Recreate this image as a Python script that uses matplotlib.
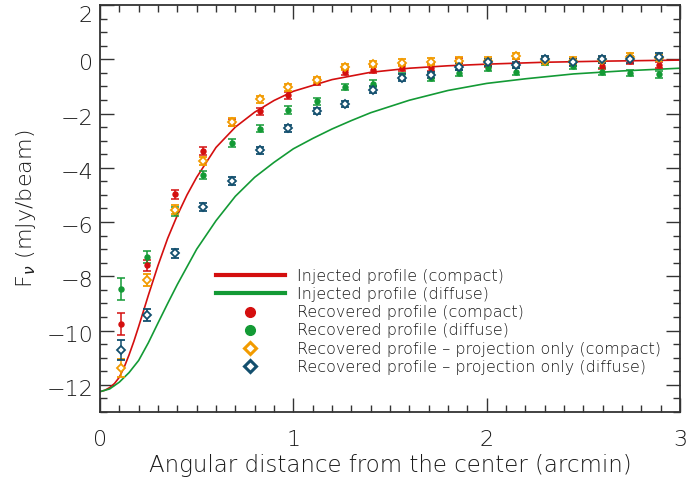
import matplotlib
matplotlib.use("Agg")
import matplotlib.pyplot as plt
from matplotlib.lines import Line2D
from matplotlib.ticker import MultipleLocator
from matplotlib.transforms import ScaledTranslation

# radial bins (arcmin)
r_bins = [0.109, 0.241, 0.388, 0.535, 0.681, 0.828, 0.974, 1.121, 1.268, 1.414,
          1.561, 1.711, 1.859, 2.006, 2.154, 2.303, 2.449, 2.596, 2.743, 2.889]

# recovered profiles (mJy/beam)
rec_compact = [-9.75, -7.6, -4.97, -3.37, -2.33, -1.91, -1.33, -0.83, -0.47, -0.38,
               -0.33, -0.31, -0.09, -0.15, -0.12, -0.05, -0.10, -0.25, -0.05, -0.21]
rec_diffuse = [-8.47, -7.3, -5.6, -4.25, -3.09, -2.56, -1.87, -1.55, -1.03, -0.90,
               -0.62, -0.68, -0.51, -0.33, -0.46, -0.10, -0.25, -0.46, -0.50, -0.56]
proj_compact = [-11.37, -8.13, -5.55, -3.74, -2.31, -1.48, -1.04, -0.77, -0.28, -0.18,
                -0.12, -0.09, -0.05, -0.05, 0.12, -0.05, -0.05, -0.03, 0.10, 0.05]
proj_diffuse = [-10.7, -9.42, -7.15, -5.44, -4.48, -3.35, -2.55, -1.91, -1.64, -1.12,
                -0.68, -0.58, -0.27, -0.11, -0.21, 0.0, -0.11, 0.0, 0.0, 0.10]

err_rec_compact = [0.40, 0.22, 0.17, 0.15, 0.14, 0.13, 0.13, 0.12, 0.12, 0.12,
                   0.12, 0.12, 0.12, 0.12, 0.12, 0.12, 0.12, 0.12, 0.12, 0.12]
err_rec_diffuse = [0.41, 0.22, 0.17, 0.15, 0.14, 0.13, 0.13, 0.12, 0.12, 0.12,
                   0.12, 0.12, 0.12, 0.12, 0.12, 0.12, 0.12, 0.12, 0.12, 0.12]
err_proj_compact = [0.34, 0.22, 0.17, 0.15, 0.14, 0.13, 0.13, 0.12, 0.12, 0.12,
                    0.12, 0.12, 0.12, 0.12, 0.12, 0.12, 0.12, 0.12, 0.12, 0.12]
err_proj_diffuse = [0.37, 0.22, 0.17, 0.15, 0.14, 0.13, 0.13, 0.12, 0.12, 0.12,
                    0.12, 0.12, 0.12, 0.12, 0.12, 0.12, 0.12, 0.12, 0.12, 0.12]

# injected profiles
inj_r_compact = [0.0, 0.025, 0.05, 0.075, 0.1, 0.125, 0.15, 0.175, 0.2, 0.25, 0.3, 0.35,
                 0.4, 0.45, 0.5, 0.6, 0.7, 0.8, 0.9, 1.0, 1.2, 1.4, 1.6, 1.8, 2.0, 2.3,
                 2.6, 3.0]
inj_compact = [-12.25, -12.2, -12.1, -11.95, -11.72, -11.35, -10.9, -10.4, -9.85, -8.7,
               -7.6, -6.6, -5.75, -5.0, -4.35, -3.25, -2.5, -1.95, -1.52, -1.18, -0.75,
               -0.48, -0.33, -0.24, -0.18, -0.11, -0.07, -0.03]
inj_r_diffuse = [0.0, 0.05, 0.1, 0.15, 0.2, 0.25, 0.3, 0.35, 0.4, 0.45, 0.5, 0.6, 0.7,
                 0.8, 0.9, 1.0, 1.1, 1.2, 1.3, 1.4, 1.6, 1.8, 2.0, 2.2, 2.45, 2.7, 3.0]
inj_diffuse = [-12.25, -12.15, -11.9, -11.55, -11.1, -10.45, -9.72, -9.0, -8.3, -7.65,
               -7.0, -5.95, -5.05, -4.35, -3.8, -3.3, -2.92, -2.57, -2.26, -1.97,
               -1.51, -1.15, -0.89, -0.72, -0.54, -0.43, -0.33]

RED = "#d40f0f"
GREEN = "#139a35"
ORANGE = "#f29b00"
BLUE = "#134f6e"
INK = "#1a1a1a"

plt.rcParams["font.family"] = ["DejaVu Sans"]
plt.rcParams["font.weight"] = "light"

fig = plt.figure(figsize=(6.87, 4.87), dpi=100)
ax = fig.add_axes([100 / 687, 1 - 412 / 487, 580 / 687, 407 / 487])

ax.plot(inj_r_compact, inj_compact, color=RED, lw=1.2, zorder=2)
ax.plot(inj_r_diffuse, inj_diffuse, color=GREEN, lw=1.2, zorder=2)

eb = dict(ls="none", capsize=3, elinewidth=1.1, capthick=1.1, zorder=3)
ax.errorbar(r_bins, rec_compact, yerr=err_rec_compact, color=RED, marker="o", ms=3.6, **eb)
ax.errorbar(r_bins, rec_diffuse, yerr=err_rec_diffuse, color=GREEN, marker="o", ms=3.6, **eb)
ax.errorbar(r_bins, proj_compact, yerr=err_proj_compact, color=ORANGE, marker="D", ms=3.6,
            mfc="white", mec=ORANGE, mew=1.3, **eb)
ax.errorbar(r_bins, proj_diffuse, yerr=err_proj_diffuse, color=BLUE, marker="D", ms=3.6,
            mfc="white", mec=BLUE, mew=1.3, **eb)

ax.set_xlim(0, 3)
ax.set_ylim(-13, 2)
ax.xaxis.set_major_locator(MultipleLocator(1))
ax.xaxis.set_minor_locator(MultipleLocator(0.1))
ax.yaxis.set_major_locator(MultipleLocator(2))
ax.yaxis.set_minor_locator(MultipleLocator(0.5))
ax.tick_params(which="both", direction="in", top=True, right=True, width=1.0,
               color="#333333", labelcolor=INK)
ax.tick_params(which="major", length=10, labelsize=16)
ax.tick_params(which="minor", length=5)
ax.tick_params(axis="x", which="major", pad=13)
ax.tick_params(axis="y", which="major", pad=5)
for s in ax.spines.values():
    s.set_linewidth(1.3)
    s.set_color("#333333")

# shift y labels a bit downward like the original; the top one more
fig.canvas.draw()
ylabels = ax.get_yticklabels()
for t in ylabels:
    dy = -9 if t.get_text() == "2" else -3
    t.set_transform(t.get_transform() + ScaledTranslation(0, dy / 100, fig.dpi_scale_trans))

ax.set_xlabel("Angular distance from the center (arcmin)", fontsize=16.5,
              fontweight="light", color=INK, labelpad=3)
ax.set_ylabel(r"F$_\nu$ (mJy/beam)", fontsize=16, fontweight="light", color=INK,
              labelpad=6)

handles = [
    Line2D([], [], color=RED, lw=3),
    Line2D([], [], color=GREEN, lw=3),
    Line2D([], [], color=RED, ls="none", marker="o", ms=7),
    Line2D([], [], color=GREEN, ls="none", marker="o", ms=7),
    Line2D([], [], color=ORANGE, ls="none", marker="D", ms=6, mfc="white", mew=2.2),
    Line2D([], [], color=BLUE, ls="none", marker="D", ms=6, mfc="white", mew=2.2),
]
labels = [
    "Injected profile (compact)",
    "Injected profile (diffuse)",
    "Recovered profile (compact)",
    "Recovered profile (diffuse)",
    "Recovered profile \u2013 projection only (compact)",
    "Recovered profile \u2013 projection only (diffuse)",
]
leg = ax.legend(handles, labels, loc="upper left", bbox_to_anchor=(0.2, 0.352),
                frameon=False, fontsize=11.5, handlelength=4.3, handletextpad=0.75,
                labelspacing=0.2, borderaxespad=0, borderpad=0)
for t in leg.get_texts():
    t.set_color(INK)

fig.savefig("out.png", dpi=100)
